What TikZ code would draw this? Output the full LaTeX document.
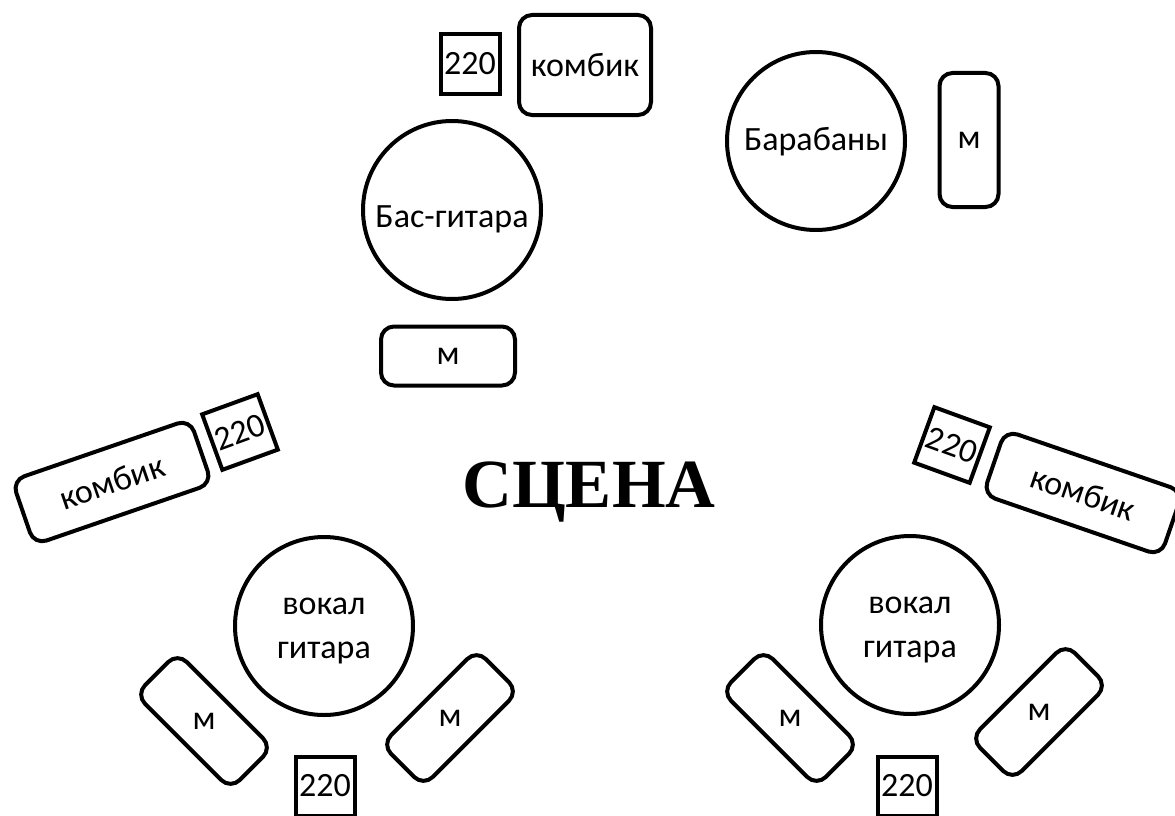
\documentclass[tikz,border=0pt]{standalone}
\usepackage{fontspec}
\setmainfont{Carlito}
\newfontfamily\stagefont{Liberation Serif}
\begin{document}
\begin{tikzpicture}[x=1pt,y=-1pt,
  every node/.style={font=\fontsize{34}{44}\selectfont, line width=4pt, inner sep=0pt},
  player/.style={draw, circle, minimum size=178pt},
  ptext/.style={align=center},
  mic/.style={draw, rounded corners=13pt, minimum width=134pt, minimum height=59pt},
  amp/.style={draw, rounded corners=13pt, minimum width=188pt, minimum height=68pt},
  plug/.style={draw, minimum width=59pt, minimum height=59pt}]
\clip (0,0) rectangle (1175,816);
\fill[white] (0,0) rectangle (1175,816);
% top group
\node[plug] (p1) at (470,64) {220};
\node[draw, rounded corners=13pt, minimum width=132pt, minimum height=100pt] (a1) at (585,65) {комбик};
\node[player] (bass) at (452,210) {};
\node[ptext] (basst) at (452,219) {Бас-гитара};
\node[mic] (m1) at (448,356) {м};
% drums
\node[player] (drums) at (816,141) {};
\node[ptext] (drumst) at (816,142) {Барабаны};
\node[mic, rotate=90] (m2) at (969,140) {\rotatebox{-90}{м}};
% left amp
\node[amp, rotate=19] (a2) at (112,482) {комбик};
\node[plug, rotate=20] (p2) at (240,432) {220};
% right amp
\node[amp, rotate=-19] (a3) at (1083,493) {комбик};
\node[plug, rotate=-20] (p3) at (952,445) {220};
% stage
\node[font=\stagefont\bfseries\fontsize{69}{70}\selectfont, anchor=base] (stage) at (589,507) {СЦЕНА};
% left vocal
\node[player] (v1) at (324,626) {};
\node[ptext] (v1t) at (324,631) {вокал\\гитара};
\node[mic, rotate=-45] (m3) at (204,721) {\rotatebox{45}{м}};
\node[mic, rotate=45] (m4) at (450,718) {\rotatebox{-45}{м}};
\node[plug] (p4) at (325,786) {220};
% right vocal
\node[player] (v2) at (910,625) {};
\node[ptext] (v2t) at (910,630) {вокал\\гитара};
\node[mic, rotate=-45] (m5) at (790,718) {\rotatebox{45}{м}};
\node[mic, rotate=45] (m6) at (1039,712) {\rotatebox{-45}{м}};
\node[plug] (p5) at (907,786) {220};
\end{tikzpicture}
\end{document}
